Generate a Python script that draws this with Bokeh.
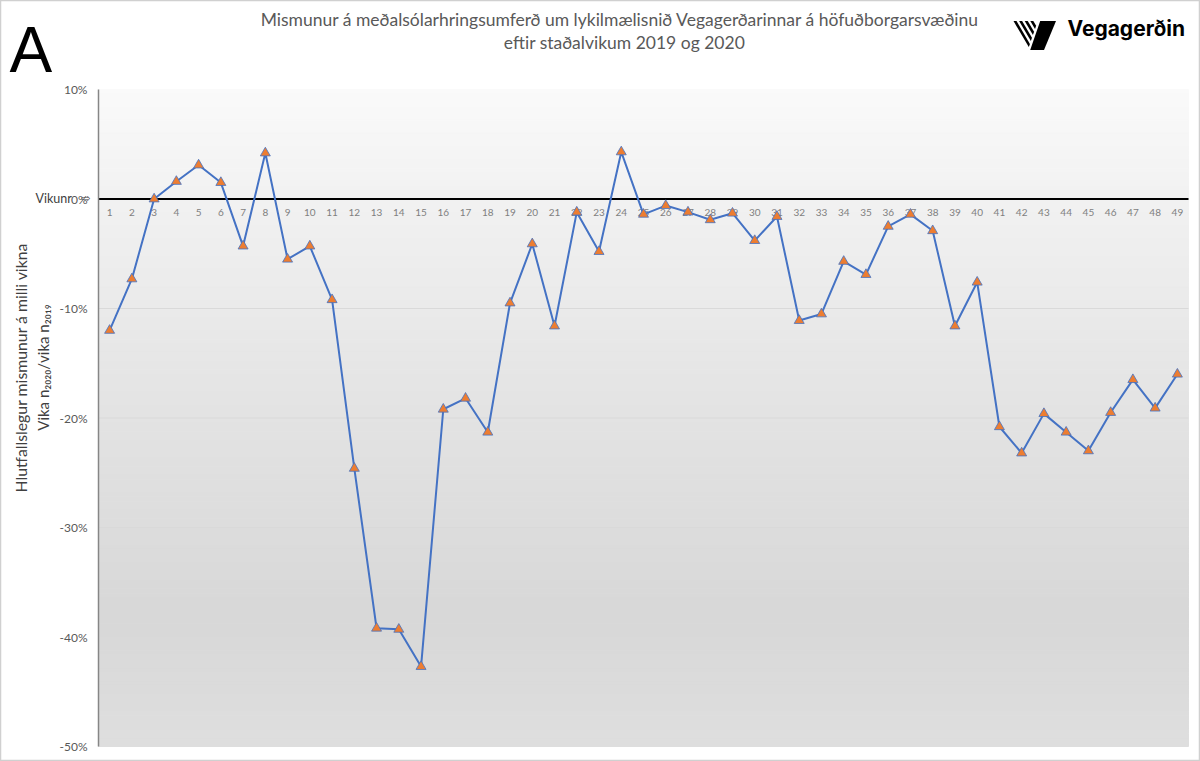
import numpy as np
from bokeh.plotting import figure
from bokeh.models import (Range1d, FixedTicker, PrintfTickFormatter, Label,
                          PolyAnnotation, ColumnDataSource)
from bokeh.core.properties import value
from bokeh.embed import file_html
from bokeh.resources import INLINE

# ---------------- data ----------------
weeks = list(range(1, 50))
week_labels = [str(w) for w in weeks]
diff_pct = [-12.0, -7.3, 0.0, 1.6, 3.1, 1.5, -4.3, 4.2, -5.5, -4.3,
            -9.2, -24.6, -39.2, -39.3, -42.7, -19.2, -18.2, -21.3, -9.5, -4.1,
            -11.6, -1.2, -4.8, 4.3, -1.4, -0.6, -1.2, -1.9, -1.3, -3.8,
            -1.6, -11.1, -10.5, -5.7, -6.9, -2.5, -1.4, -2.9, -11.6, -7.6,
            -20.8, -23.2, -19.6, -21.3, -23.0, -19.5, -16.5, -19.1, -16.0]
y_ticks = [10, 0, -10, -20, -30, -40, -50]
grid_ticks = [-10, -20, -30, -40]

title_1 = "Mismunur á meðalsólarhringsumferð  um lykilmælisnið Vegagerðarinnar  á höfuðborgarsvæðinu"
title_2 = "eftir staðalvikum 2019 og 2020"
ylab_1 = "Hlutfallslegur mismunur á milli vikna"
ylab_2 = "Vika n₂₀₂₀/vika n₂₀₁₉"

FONT = "Lato"

# ---------------- layout (pixels of the page) ----------------
W, H = 1200, 761
PL, PR, PT, PB = 98, 1188, 89, 746      # plot-area box in page pixels

x_lo, x_hi = 0.5, len(weeks) + 0.5
y_lo, y_hi = min(y_ticks), max(y_ticks)
kx = (PR - PL) / (x_hi - x_lo)
ky = (PB - PT) / (y_hi - y_lo)
x_start, x_end = x_lo - PL / kx, x_hi + (W - PR) / kx
y_end, y_start = y_hi + PT / ky, y_lo - (H - PB) / ky


def dx(px):
    return x_start + px / kx


def dy(py):
    return y_end - py / ky


p = figure(width=W, height=H, output_backend="svg", toolbar_location=None,
           x_range=Range1d(x_start, x_end), y_range=Range1d(y_start, y_end),
           min_border=0, min_border_left=0, min_border_right=0,
           min_border_top=0, min_border_bottom=0)
p.title.visible = False
p.outline_line_color = "#d0d0d0"
p.outline_line_width = 1.5
p.background_fill_color = "white"
p.border_fill_color = "white"
p.xaxis.visible = False
p.xgrid.visible = False
p.ygrid.visible = False

# background gradient of the plot area (decoration)
n_strips = 150
edges = np.linspace(y_hi, y_lo, n_strips + 1)
frac = (y_hi - edges[:-1]) / (y_hi - y_lo)
stops_f = [0.0, 0.18, 0.5, 0.8, 1.0]
stops_v = [250, 241, 227, 216, 223]
vals = np.interp(frac, stops_f, stops_v).astype(int)
cols = ["#%02x%02x%02x" % (v, v, v) for v in vals]
p.quad(left=x_lo, right=x_hi, top=edges[:-1], bottom=edges[1:],
       fill_color=cols, line_color=cols, line_width=1)

# horizontal gridlines and zero line
p.segment(x0=x_lo, x1=x_hi, y0=grid_ticks, y1=grid_ticks,
          line_color="#d9d9d9", line_width=1)
p.segment(x0=[x_lo], x1=[x_hi], y0=[0], y1=[0], line_color="black", line_width=2)

# y axis positioned at the left edge of the plot area
ya = p.yaxis[0]
ya.fixed_location = x_lo
ya.bounds = (y_lo, y_hi)
ya.ticker = FixedTicker(ticks=y_ticks)
ya.formatter = PrintfTickFormatter(format="%d%%")
ya.major_tick_in = 0
ya.major_tick_out = 0
ya.minor_tick_in = 0
ya.minor_tick_out = 0
ya.axis_line_color = "#868686"
ya.axis_line_width = 1.5
ya.major_label_standoff = 11
ya.major_label_text_font = FONT
ya.major_label_text_font_size = "12px"
ya.major_label_text_color = "#595959"

# week labels along the zero line
src_lab = ColumnDataSource(dict(x=weeks, y=[0] * len(weeks), t=week_labels))
p.text(x="x", y="y", text="t", source=src_lab, text_align="center",
       text_baseline="middle", y_offset=13, text_font=value(FONT),
       text_font_size="10px", text_color="#7f7f7f")

# series
p.line(weeks, diff_pct, line_color="#4472C4", line_width=2)
p.scatter(weeks, diff_pct, marker="triangle", size=10, fill_color="#ED7D31",
          line_color="#4472C4", line_width=0.8)

# ---------------- texts ----------------
for txt, ry in [(title_1, 19), (title_2, 42)]:
    p.add_layout(Label(x=dx(624), y=dy(ry), text=txt, text_align="center",
                       text_baseline="middle", text_font=FONT,
                       text_font_size="17.5px", text_color="#595959"))

p.add_layout(Label(x=dx(9), y=dy(49), text="A", text_align="left",
                   text_baseline="middle", text_font="Liberation Sans",
                   text_font_size="64px", text_color="black"))

for txt, rx, fs in [(ylab_1, 20, "15.8px"), (ylab_2, 42, "15px")]:
    p.add_layout(Label(x=dx(rx), y=dy(367), text=txt, angle=np.pi / 2,
                       text_align="center", text_baseline="middle",
                       text_font=FONT, text_font_size=fs, text_color="#404040"))

p.add_layout(Label(x=dx(35), y=dy(198), text="Vikunr", text_align="left",
                   text_baseline="middle", text_font=FONT,
                   text_font_size="12.5px", text_color="#404040"))
p.add_layout(Label(x=dx(90), y=dy(198), text="⇨", text_align="right",
                   text_baseline="middle", text_font="DejaVu Sans",
                   text_font_size="11px", text_color="#404040"))

# logo
p.add_layout(Label(x=dx(1067), y=dy(28), text="Vegagerðin", text_align="left",
                   text_baseline="middle", text_font="Inter",
                   text_font_style="bold", text_font_size="21px",
                   text_color="black"))
big = [(1039.7, 20.5), (1055.5, 20.5), (1043.5, 49.5), (1029.7, 49.5)]
p.add_layout(PolyAnnotation(xs=[dx(a) for a, b in big], ys=[dy(b) for a, b in big],
                            fill_color="black", fill_alpha=1, line_color=None))
# striped part of the logo mark
top_y = 20.5
s_dir = 17.0 / 29.0           # stripes run down-right
b_x0, b_slope = 1037.3, -10.0 / 29.0   # boundary next to the big shape
for i in range(4):
    x0 = 1013.0 + i * 5.6
    pts = []
    for xe in (x0, x0 + 3.0):
        t = (b_x0 - xe) / (s_dir - b_slope)
        pts.append((xe, top_y, xe + s_dir * t, top_y + t))
    poly = [(pts[0][0], pts[0][1]), (pts[1][0], pts[1][1]),
            (pts[1][2], pts[1][3]), (pts[0][2], pts[0][3])]
    p.add_layout(PolyAnnotation(xs=[dx(a) for a, b in poly], ys=[dy(b) for a, b in poly],
                                fill_color="black", fill_alpha=1, line_color=None))

open("out.html", "w").write(file_html(p, INLINE))
